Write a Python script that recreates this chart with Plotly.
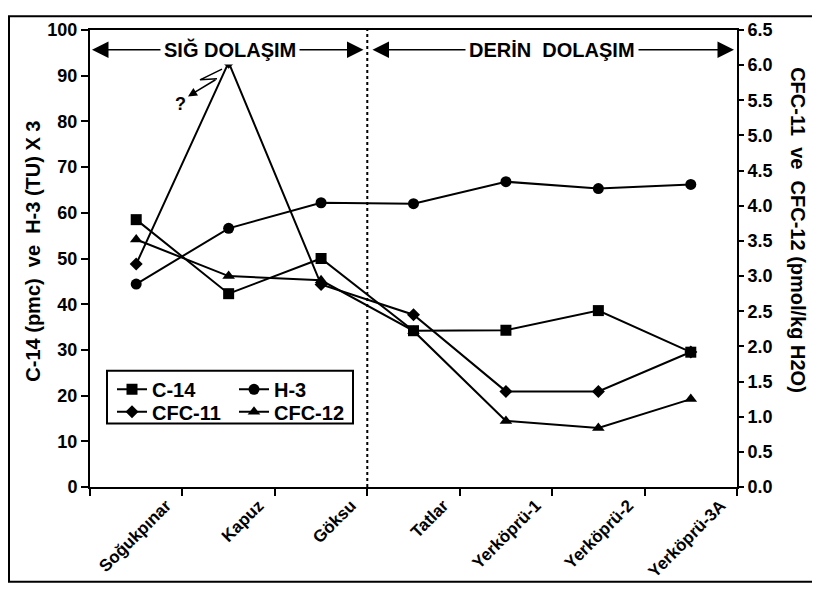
import plotly.graph_objects as go

categories = ["Soğukpınar", "Kapuz", "Göksu", "Tatlar", "Yerköprü-1", "Yerköprü-2", "Yerköprü-3A"]
c14 = [58.5, 42.3, 50.0, 34.2, 34.3, 38.6, 29.5]
h3x3 = [44.4, 56.6, 62.2, 62.0, 66.8, 65.3, 66.2]
cfc11 = [3.17, 6.04, 2.88, 2.45, 1.36, 1.36, 1.92]
cfc12 = [3.52, 3.0, 2.94, 2.22, 0.94, 0.84, 1.25]

FONT = "Arial, 'Liberation Sans', sans-serif"
OFF = 8  # page body margin
W, H = 812, 585
PL, PR, PT, PB = 90, 737, 23, 491  # plot area in page pixels
L, R, T, B = PL - OFF, W - (PR - OFF), PT - OFF, H - (PB - OFF)
PW, PH = PR - PL, PB - PT


def px(x):
    return (x - PL) / PW


def py(y):
    return (PB - y) / PH


fig = go.Figure()
line = dict(color="black", width=2)
fig.add_trace(go.Scatter(x=categories, y=c14, name="C-14", mode="lines+markers",
                         line=line, marker=dict(symbol="square", size=11, color="black"), legend="legend"))
fig.add_trace(go.Scatter(x=categories, y=h3x3, name="H-3", mode="lines+markers",
                         line=line, marker=dict(symbol="circle", size=11, color="black"), legend="legend2"))
fig.add_trace(go.Scatter(x=categories, y=cfc11, name="CFC-11", mode="lines+markers", yaxis="y2",
                         line=line, marker=dict(symbol="diamond", size=10, color="black"), legend="legend3"))
fig.add_trace(go.Scatter(x=categories, y=cfc12, name="CFC-12", mode="lines+markers", yaxis="y2",
                         line=line, marker=dict(symbol="triangle-up", size=11, color="black"), legend="legend4"))

tickfont = dict(family=FONT, size=18, color="black", weight="bold")
shapes = [
    dict(type="rect", xref="paper", yref="paper", x0=px(9), x1=px(815), y0=py(588), y1=py(9),
         line=dict(color="black", width=2)),
    dict(type="line", xref="paper", yref="paper", x0=3/7, x1=3/7, y0=0, y1=1,
         line=dict(color="black", width=2, dash="dot")),
    dict(type="rect", xref="paper", yref="paper", x0=px(107), x1=px(353), y0=py(426), y1=py(372),
         line=dict(color="black", width=2), fillcolor="white", layer="below"),
    dict(type="path", xref="paper", yref="paper",
         path=f"M {px(222)} {py(63)} L {px(200)} {py(74)} L {px(217)} {py(73)}",
         line=dict(color="black", width=1.5)),
]

ay_arrow = 95.7
XD = "x domain"
YD = "y domain"
hdr = dict(family=FONT, size=20, color="black")
annotations = [
    dict(xref=XD, yref="y", axref=XD, ayref="y", x=px(92), y=ay_arrow, ax=px(365), ay=ay_arrow,
         showarrow=True, arrowside="end+start", arrowhead=2, arrowsize=2.2, arrowwidth=1.5,
         arrowcolor="black", text=""),
    dict(xref=XD, yref="y", axref=XD, ayref="y", x=px(734), y=ay_arrow, ax=px(371), ay=ay_arrow,
         showarrow=True, arrowside="end+start", arrowhead=2, arrowsize=2.2, arrowwidth=1.5,
         arrowcolor="black", text=""),
    dict(xref="paper", yref="y", x=px(230), y=ay_arrow, xanchor="center", yanchor="middle",
         text="<b>SIĞ DOLAŞIM</b>", showarrow=False, bgcolor="white", font=hdr, borderpad=3),
    dict(xref="paper", yref="y", x=px(552), y=ay_arrow, xanchor="center", yanchor="middle",
         text="<b>DERİN  DOLAŞIM</b>", showarrow=False, bgcolor="white", font=hdr, borderpad=3),
    dict(xref=XD, yref=YD, axref=XD, ayref=YD, x=px(188), y=py(91), ax=px(217), ay=py(73),
         showarrow=True, arrowhead=2, arrowsize=1.2, arrowwidth=1.5, arrowcolor="black", text=""),
    dict(xref="paper", yref="paper", x=px(180), y=py(99), xanchor="center", yanchor="middle",
         text="<b>?</b>", showarrow=False, font=dict(family=FONT, size=18, color="black")),
    dict(xref="paper", yref="paper", x=px(33), y=py(250), xanchor="center", yanchor="middle",
         text="<b>C-14 (pmc)  ve  H-3 (TU) X 3</b>",
         textangle=-90, showarrow=False, font=dict(family=FONT, size=20, color="black")),
    dict(xref="paper", yref="paper", x=px(798), y=py(228), xanchor="center", yanchor="middle",
         text="<b>CFC-11  ve  CFC-12 (pmol/kg H2O)</b>",
         textangle=90, showarrow=False, font=dict(family=FONT, size=20, color="black")),
]

legfont = dict(family=FONT, size=20, color="black", weight="bold")


def leg(xp, yp):
    return dict(x=px(xp), y=py(yp), xanchor="left", yanchor="middle", font=legfont,
                bgcolor="rgba(0,0,0,0)", itemwidth=30, borderwidth=0)


fig.update_layout(
    width=W, height=H,
    margin=dict(l=L, r=R, t=T, b=B),
    paper_bgcolor="white", plot_bgcolor="white",
    showlegend=True,
    legend=leg(112, 391),
    legend2=leg(234, 391),
    legend3=leg(112, 414),
    legend4=leg(234, 414),
    xaxis=dict(type="category", tickson="boundaries", ticks="outside", ticklen=7, tickwidth=2,
               tickcolor="black", showline=True, linecolor="black", linewidth=2, mirror=True,
               showgrid=False, tickangle=-45, ticklabelshift=30,
               tickfont=dict(family=FONT, size=17, color="black", weight="bold"),
               range=[-0.5, 6.5]),
    yaxis=dict(range=[0, 100], dtick=10, ticks="outside", ticklen=7, tickwidth=2, tickcolor="black",
               showline=True, linecolor="black", linewidth=2, showgrid=False, zeroline=False,
               tickfont=tickfont),
    yaxis2=dict(range=[0, 6.5], dtick=0.5, tickformat=".1f", overlaying="y", side="right",
                ticks="outside", ticklen=5, tickwidth=1.5, tickcolor="black",
                showline=True, linecolor="black", linewidth=2, showgrid=False, zeroline=False,
                tickfont=tickfont),
    shapes=shapes,
    annotations=annotations,
)

fig.write_html("out.html")
